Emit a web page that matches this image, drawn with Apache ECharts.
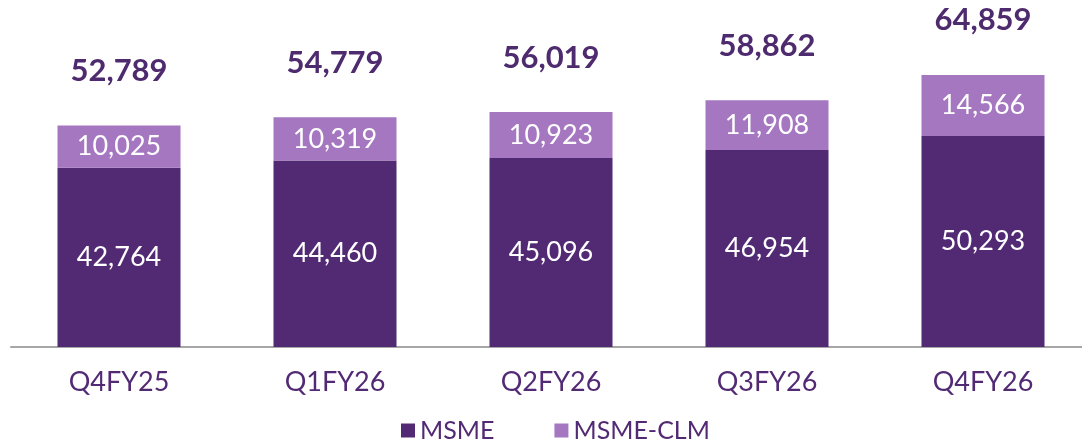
<!DOCTYPE html>
<html>
<head>
<meta charset="utf-8">
<script src="https://cdn.jsdelivr.net/npm/echarts@6/dist/echarts.min.js"></script>
<style>
    html, body { margin: 0; padding: 0; background: #fff; overflow: hidden; width: 1082px; height: 444px; }
</style>
</head>
<body>
<div style="width:1091px;height:444px;" id="chart"></div>
<script>
const quarters = ['Q4FY25', 'Q1FY26', 'Q2FY26', 'Q3FY26', 'Q4FY26'];
const msme = [42764, 44460, 45096, 46954, 50293];
const msmeClm = [10025, 10319, 10923, 11908, 14566];
const totals = [52789, 54779, 56019, 58862, 64859];

const dark = '#522a74';
const light = '#a577c0';
const fmt = v => v.toLocaleString('en-US');

let chart = echarts.init(document.getElementById('chart'));
const option = {
    textStyle: { fontFamily: 'Lato' },
    animation: false,
    grid: {
        left: 11,
        right: 0,
        top: 11.5,
        bottom: 97,
        containLabel: false
    },
    legend: {
        data: ['MSME', 'MSME-CLM'],
        top: 413,
        left: 396,
        itemWidth: 14,
        itemHeight: 14,
        itemGap: 60,
        icon: 'rect',
        textStyle: { color: dark, fontSize: 25, fontFamily: 'Lato' }
    },
    xAxis: {
        type: 'category',
        data: quarters,
        axisLine: { lineStyle: { color: '#a6a6a6', width: 2 } },
        axisTick: { show: false },
        axisLabel: { color: dark, fontSize: 27, margin: 22, fontFamily: 'Lato' }
    },
    yAxis: {
        type: 'value',
        min: 0,
        max: 80000,
        show: false,
        splitLine: { show: false }
    },
    series: [
        {
            name: 'MSME',
            type: 'bar',
            stack: 'total',
            barWidth: 123,
            itemStyle: { color: dark },
            label: {
                show: true,
                position: 'inside',
                color: '#fff',
                fontSize: 27,
                fontFamily: 'Lato',
                formatter: p => fmt(p.value)
            },
            data: msme
        },
        {
            name: 'MSME-CLM',
            type: 'bar',
            stack: 'total',
            barWidth: 123,
            itemStyle: { color: light },
            label: {
                show: true,
                position: 'inside',
                color: '#fff',
                fontSize: 27,
                fontFamily: 'Lato',
                formatter: p => fmt(p.value)
            },
            data: msmeClm
        },
        {
            name: 'Total',
            type: 'bar',
            barWidth: 123,
            barGap: '-100%',
            itemStyle: { color: 'rgba(0,0,0,0)' },
            label: {
                show: true,
                position: 'top',
                distance: 39,
                color: '#4e2a6e',
                fontSize: 31,
                fontWeight: 'bold',
                fontFamily: 'Lato',
                formatter: p => fmt(p.value)
            },
            z: 1,
            data: totals
        }
    ]
};
chart.setOption(option);
window.addEventListener('resize', function () {
    chart.resize();
});
</script>
</body>
</html>
